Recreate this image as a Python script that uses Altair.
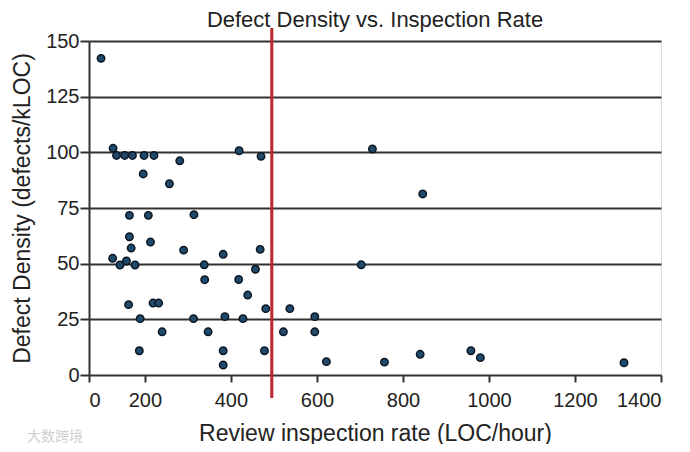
import altair as alt
import pandas as pd

# Review inspection rate (LOC/hour)
rate = [98, 126, 134, 153, 171, 198, 221, 196, 281, 257, 419, 470,
        729, 846,
        164, 208, 314, 164, 213, 168, 290, 382, 468, 125, 142, 157, 177,
        338, 457, 339, 418, 439, 162, 219, 232, 481, 537, 189, 313, 386,
        428, 595, 240, 347, 522, 595, 187, 382, 478, 382, 622,
        703, 757, 840, 958, 980, 1314]
# Defect density (defects/kLOC)
density = [142.2, 101.8, 98.6, 98.6, 98.6, 98.6, 98.6, 90.3, 96.2, 85.9, 100.7, 98.2,
           101.5, 81.3,
           71.7, 71.7, 72.0, 62.1, 59.7, 57.0, 56.1, 54.2, 56.4, 52.4, 49.4, 51.2, 49.4,
           49.5, 47.5, 42.8, 42.9, 35.9, 31.6, 32.3, 32.3, 29.8, 29.8, 25.3, 25.3, 26.2,
           25.3, 26.2, 19.4, 19.4, 19.4, 19.4, 10.9, 10.9, 10.9, 4.5, 6.0,
           49.5, 5.8, 9.3, 10.9, 7.8, 5.5]

threshold = [495]
x_ticks = [70, 200, 400, 600, 800, 1000, 1200, 1400]
y_ticks = [0, 25, 50, 75, 100, 125, 150]
chart_title = ["Defect Density vs. Inspection Rate"]
watermark_text = ["大数跨境"]

df = pd.DataFrame({"rate": rate, "density": density})
df_line = pd.DataFrame({"rate": threshold})

FONT = "Liberation Sans"

xscale = alt.Scale(domain=[70, 1400], nice=False, zero=False)
yscale = alt.Scale(domain=[0, 150], nice=False)

points = alt.Chart(df).mark_point(
    filled=True, size=55, fill="#1f4a6b", stroke="#0b1622", strokeWidth=1.5, opacity=1
).encode(
    x=alt.X("rate:Q", scale=xscale, title="Review inspection rate (LOC/hour)",
            axis=alt.Axis(values=x_ticks, grid=False, domain=False, ticks=True,
                          tickSize=7, tickColor="#333", tickWidth=2,
                          labelExpr="datum.value < 100 ? '0' : datum.label",
                          labelFontSize=20, labelColor="#222", labelFont=FONT,
                          labelPadding=8, titleFontSize=23, titleFont=FONT,
                          titleFontWeight="normal", titleColor="#222", titlePadding=12,
                          format="d")),
    y=alt.Y("density:Q", scale=yscale, title="Defect Density (defects/kLOC)",
            axis=alt.Axis(values=y_ticks, grid=True, gridColor="#333", gridWidth=2,
                          domain=True, domainColor="#333", domainWidth=2,
                          ticks=True, tickSize=9, tickColor="#333", tickWidth=2,
                          labelFontSize=20, labelColor="#222", labelFont=FONT,
                          labelPadding=1, titleFontSize=23, titleFont=FONT,
                          titleFontWeight="normal", titleColor="#222", titlePadding=11)),
)

rule = alt.Chart(df_line).mark_rule(color="#c0262d", strokeWidth=3).encode(
    x=alt.X("rate:Q", scale=xscale),
    y=alt.value(-13),
    y2=alt.value(357),
)

title = alt.Chart(pd.DataFrame({"t": chart_title})).mark_text(
    align="center", baseline="alphabetic", fontSize=22, color="#222", font=FONT
).encode(x=alt.value(286), y=alt.value(-14), text="t:N")

watermark = alt.Chart(pd.DataFrame({"t": watermark_text})).mark_text(
    align="left", baseline="middle", fontSize=14, color="#cfcfcf", font="Noto Sans CJK SC"
).encode(x=alt.value(-62), y=alt.value(396), text="t:N")

chart = alt.layer(points, rule, title, watermark).properties(
    width=572, height=334,
    padding={"left": 81, "top": 33, "right": 21, "bottom": 69},
    autosize=alt.AutoSizeParams(type="none"),
).configure_view(stroke=None).configure(background="white")

chart.save("out.html", embed_options={"renderer": "svg", "actions": False})
